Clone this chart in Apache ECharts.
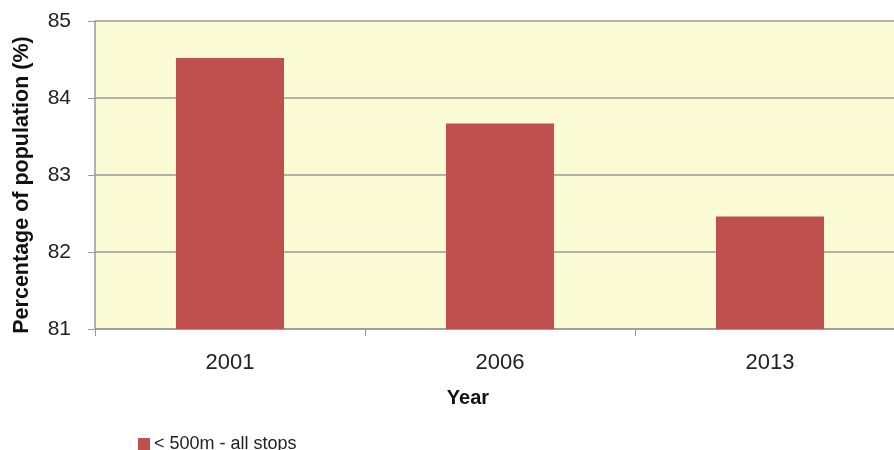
<!DOCTYPE html>
<html>
<head>
<meta charset="utf-8">
<script src="https://cdn.jsdelivr.net/npm/echarts@6/dist/echarts.min.js"></script>
<style>
  html, body { margin: 0; padding: 0; background: #fff; overflow: hidden; }
  #chart { width: 910px; height: 450px; }
</style>
</head>
<body>
<div id="chart"></div>
<script>
// data
var years = ['2001', '2006', '2013'];
var within500m = [84.52, 83.67, 82.46];
var seriesName = '< 500m - all stops';
var yMin = 81, yMax = 85, yStep = 1;

var font = 'Liberation Sans';
var myChart = echarts.init(document.getElementById('chart'));

// plot is wider than the window, right part is cut off like the original
var option = {
    animation: false,
    textStyle: {fontFamily: font},
    grid: {
        left: 95,
        top: 21,
        right: 5,
        height: 308,
        show: true,
        backgroundColor: '#fafbd4',
        borderWidth: 0
    },
    legend: {
        left: 133,
        top: 430,
        itemWidth: 12,
        itemHeight: 12,
        itemGap: 4,
        icon: 'rect',
        textStyle: {fontSize: 18, color: '#222', fontFamily: font, padding: [0, 0, 0, -1]},
        data: [seriesName]
    },
    xAxis: {
        type: 'category',
        data: years,
        axisLine: {lineStyle: {color: '#999', width: 1.5}},
        axisTick: {show: true, length: 7, lineStyle: {color: '#999'}},
        axisLabel: {fontSize: 22, color: '#222', margin: 23}
    },
    yAxis: {
        type: 'value',
        min: yMin,
        max: yMax,
        interval: yStep,
        axisLine: {show: true, lineStyle: {color: '#999', width: 1.5}},
        axisTick: {show: true, length: 7, lineStyle: {color: '#999'}},
        splitLine: {lineStyle: {color: '#999', width: 1.5}},
        axisLabel: {fontSize: 21, color: '#222', margin: 24}
    },
    graphic: [
        {
            type: 'text',
            x: 22, y: 185,
            rotation: Math.PI / 2,
            style: {
                text: 'Percentage of population (%)',
                font: 'bold 21.5px "' + font + '"',
                fill: '#111',
                align: 'center',
                verticalAlign: 'middle'
            }
        },
        {
            type: 'text',
            x: 468, y: 398,
            style: {
                text: 'Year',
                font: 'bold 20px "' + font + '"',
                fill: '#111',
                align: 'center',
                verticalAlign: 'middle'
            }
        }
    ],
    series: [{
        name: seriesName,
        type: 'bar',
        data: within500m,
        barWidth: 108,
        itemStyle: {color: '#c0504d'}
    }]
};

myChart.setOption(option, true);
</script>
</body>
</html>
